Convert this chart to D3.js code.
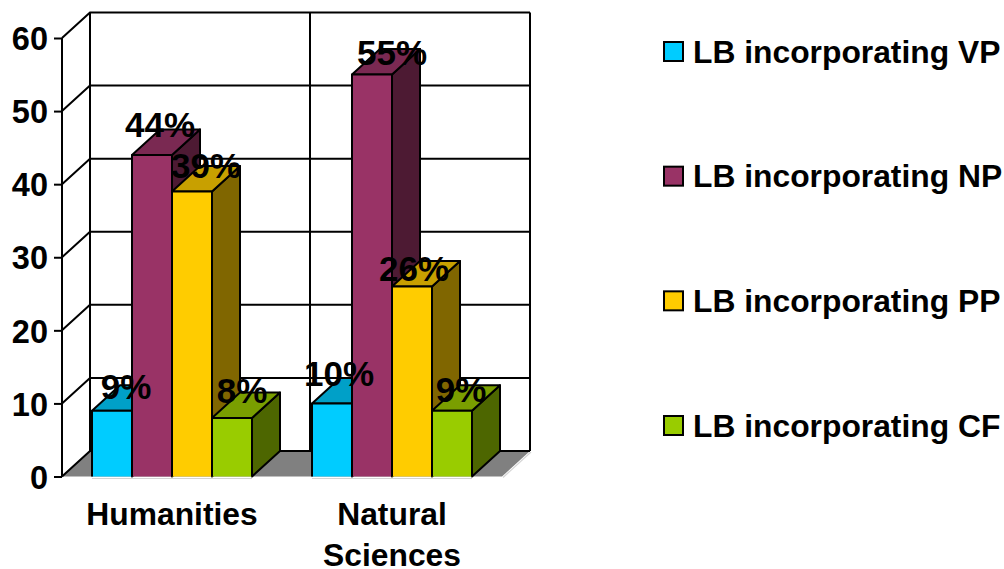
<!DOCTYPE html>
<html>
<head>
<meta charset="utf-8">
<script src="https://cdn.jsdelivr.net/npm/d3@7/dist/d3.min.js"></script>
<style>
html,body{margin:0;padding:0;background:#fff;}
svg{display:block;}
text{font-family:"Liberation Sans",Arial,sans-serif;fill:#000;}
</style>
</head>
<body>
<svg id="chart" width="1004" height="569"></svg>
<script>
// Chart data
const categories = ["Humanities", "Natural Sciences"];
const seriesNames = ["LB incorporating VP", "LB incorporating NP", "LB incorporating PP", "LB incorporating CF"];
const humanitiesValues = [9, 44, 39, 8];
const naturalSciencesValues = [10, 55, 26, 9];
const yTicks = [0, 10, 20, 30, 40, 50, 60];
const frontColors = ["#00ccff", "#993366", "#ffcc00", "#99cc00"];
const topColors = ["#00a0c8", "#7a2952", "#c8a000", "#7a9e00"];
const sideColors = ["#006680", "#4d1a33", "#806600", "#4d6600"];

// Hand-placed label nudges, one [dx, dy] per bar
const labelNudges = [
  [[0, -2], [-6, -8], [0, -3], [-4, -5]],
  [[-7, -7], [6, 0], [-12, 5], [-5, 1]]
];

const depthX = 28, depthY = -25.5;
const svg = d3.select("#chart");
const y = d3.scaleLinear().domain([0, 60]).range([476.5, 38]);
const x = d3.scaleBand().domain(categories).range([62, 502]).padding(0);
const barX = d3.scaleBand().domain(d3.range(seriesNames.length)).range([30, 190]);
const values = [humanitiesValues, naturalSciencesValues];

const x0 = x.range()[0], x1 = x.range()[1];
const line = d3.line();

// Floor
svg.append("path")
  .attr("d", line([[x0, y(0)], [x0 + depthX, y(0) + depthY], [x1 + depthX, y(0) + depthY], [x1, y(0)]]) + "Z")
  .attr("fill", "#808080");
svg.append("path")
  .attr("d", line([[x1 + 1, y(0) + 1], [x1 + depthX + 1, y(0) + depthY + 1]]))
  .attr("stroke", "#d4d4d4").attr("stroke-width", 1.2).attr("fill", "none");

// Side wall and back wall grid
const grid = svg.append("g").attr("fill", "none").attr("stroke", "#000").attr("stroke-width", 2);
yTicks.forEach(t => {
  if (t > 0) {
    grid.append("path").attr("d", line([[x0, y(t)], [x0 + depthX, y(t) + depthY], [x1 + depthX, y(t) + depthY]]));
  }
});
grid.append("path").attr("d", line([[x0, y(0)], [x0 + depthX, y(0) + depthY], [x1 + depthX, y(0) + depthY]]));
grid.append("path").attr("d", line([[x0 + depthX, y(0) + depthY], [x0 + depthX, y(60) + depthY]]));
grid.append("path").attr("d", line([[x(categories[1]) + depthX, y(0) + depthY], [x(categories[1]) + depthX, y(60) + depthY]]));
grid.append("path").attr("d", line([[x1 + depthX, y(0) + depthY], [x1 + depthX, y(60) + depthY]]));

// Value axis with outward ticks
const axis = svg.append("g").attr("transform", `translate(${x0},0)`)
  .call(d3.axisLeft(y).tickValues(yTicks).tickSize(8).tickPadding(6));
axis.select(".domain").attr("stroke", "#000").attr("stroke-width", 2).attr("d", line([[0, y(0)], [0, y(60)]]));
axis.selectAll(".tick line").attr("stroke", "#000").attr("stroke-width", 2);
axis.selectAll(".tick text")
  .attr("font-family", '"Liberation Sans",Arial,sans-serif')
  .attr("font-size", 32.5).attr("font-weight", "bold").attr("fill", "#000")
  .attr("dy", "0.36em");

// Thin highlight under the bars
categories.forEach(c => {
  svg.append("path")
    .attr("d", line([[x(c) + barX(0), y(0) + 2], [x(c) + barX(3) + barX.bandwidth(), y(0) + 2]]))
    .attr("stroke", "#d4d4d4").attr("stroke-width", 1).attr("fill", "none");
});

// Bars: side and top faces first, then the front, going left to right
const bars = svg.append("g").attr("stroke", "#000").attr("stroke-width", 2).attr("stroke-linejoin", "round");
categories.forEach((c, ci) => {
  values[ci].forEach((v, i) => {
    const l = x(c) + barX(i), r = l + barX.bandwidth(), t = y(v), b = y(0);
    bars.append("path").attr("fill", sideColors[i])
      .attr("d", line([[r, t], [r + depthX, t + depthY], [r + depthX, b + depthY], [r, b]]) + "Z");
    bars.append("path").attr("fill", topColors[i])
      .attr("d", line([[l, t], [l + depthX, t + depthY], [r + depthX, t + depthY], [r, t]]) + "Z");
    bars.append("path").attr("fill", frontColors[i])
      .attr("d", line([[l, b], [l, t], [r, t], [r, b]]));
  });
});

// Value labels sit above the top faces
categories.forEach((c, ci) => {
  values[ci].forEach((v, i) => {
    const l = x(c) + barX(i);
    const [dx, dy] = labelNudges[ci][i];
    svg.append("text")
      .attr("x", l + barX.bandwidth() / 2 + depthX / 2 + dx)
      .attr("y", y(v) - 10 + dy)
      .attr("text-anchor", "middle")
      .attr("font-size", 35)
      .attr("font-weight", "bold")
      .text(v + "%");
  });
});

// Category labels, wrapped on spaces
categories.forEach(c => {
  c.split(" ").forEach((word, k) => {
    svg.append("text")
      .attr("x", x(c) + x.bandwidth() / 2)
      .attr("y", 525 + k * 41)
      .attr("text-anchor", "middle")
      .attr("font-size", 31.8)
      .attr("font-weight", "bold")
      .text(word);
  });
});

// Legend
const legendY = d3.scalePoint().domain(seriesNames).range([52, 426]);
seriesNames.forEach((name, i) => {
  svg.append("rect")
    .attr("x", 664).attr("y", legendY(name) - 10)
    .attr("width", 19).attr("height", 19)
    .attr("fill", frontColors[i]).attr("stroke", "#000").attr("stroke-width", 2);
  svg.append("text")
    .attr("x", 693).attr("y", legendY(name) + 10.5)
    .attr("font-size", 31.8).attr("font-weight", "bold")
    .text(name);
});
</script>
</body>
</html>
